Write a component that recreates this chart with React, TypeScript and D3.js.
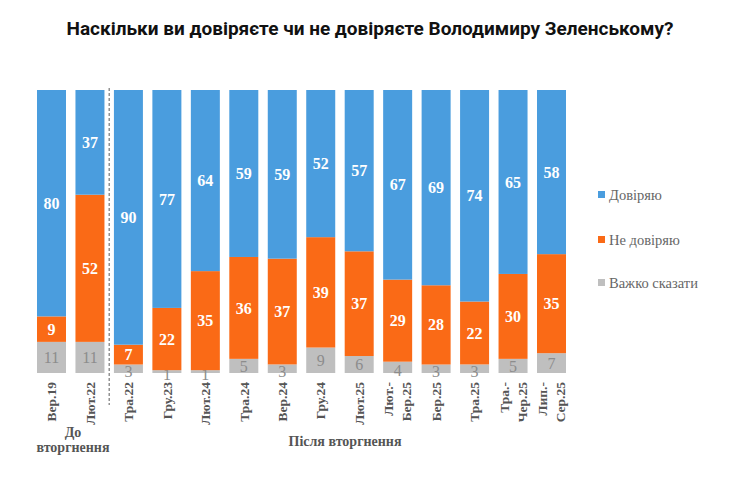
import React from "react";
import * as d3 from "d3";

const categories = ["Вер.19", "Лют.22", "Тра.22", "Гру.23", "Лют.24", "Тра.24", "Вер.24", "Гру.24", "Лют.25", "Лют.-|Бер.25", "Бер.25", "Тра.25", "Тра.-|Чер.25", "Лип.-|Сер.25"];
const trust = [80, 37, 90, 77, 64, 59, 59, 52, 57, 67, 69, 74, 65, 58];
const distrust = [9, 52, 7, 22, 35, 36, 37, 39, 37, 29, 28, 22, 30, 35];
const hard = [11, 11, 3, 1, 1, 5, 3, 9, 6, 4, 3, 3, 5, 7];
const seriesNames = ["Довіряю", "Не довіряю", "Важко сказати"];
const colors = ["#4A9DDE", "#FA6A16", "#BFBFBF"];
const title = "Наскільки ви довіряєте чи не довіряєте Володимиру Зеленському?";

const W = 740, H = 498;

export default function App() {
  const rows = categories.map((c, i) => ({ cat: c, hard: hard[i], distrust: distrust[i], trust: trust[i] }));
  const keys = ["hard", "distrust", "trust"];
  const stack = d3.stack<any>().keys(keys).offset(d3.stackOffsetExpand);
  const series = stack(rows);
  const x = d3.scaleBand().domain(categories).range([37, 566]).paddingInner(0.246).paddingOuter(0);
  const y = d3.scaleLinear().domain([0, 1]).range([373, 90]);
  const colorOf: Record<string, string> = { trust: colors[0], distrust: colors[1], hard: colors[2] };
  const serif = "Liberation Serif";
  const divX = (x(categories[1])! + x.bandwidth() + x(categories[2])!) / 2;

  return (
    <svg width={W} height={H} style={{ position: "absolute", left: 0, top: 0, background: "#fff" }}>
      <text x={370} y={35} textAnchor="middle" fontFamily="Roboto, sans-serif" fontWeight={700} fontSize={19} fill="#111">{title}</text>
      {series.map((s) => (
        <g key={s.key}>
          {s.map((d, i) => {
            const y0 = y(d[0]), y1 = y(d[1]);
            const cx = x(categories[i])! + x.bandwidth() / 2;
            const isHard = s.key === "hard";
            const val = (rows[i] as any)[s.key];
            const mid = (y0 + y1) / 2;
            const cy = isHard && y0 - y1 < 12 ? mid + 3 : mid;
            return (
              <g key={i}>
                <rect x={x(categories[i])} y={y1} width={x.bandwidth()} height={y0 - y1} fill={colorOf[s.key]} />
                <text x={cx} y={cy} dy="0.35em" textAnchor="middle" fontFamily={serif}
                  fontWeight={isHard ? 400 : 700} fontSize={16} fill={isHard ? "#8c8c8c" : "#fff"}>{val}</text>
              </g>
            );
          })}
        </g>
      ))}
      <line x1={divX} x2={divX} y1={88} y2={405} stroke="#777" strokeWidth={1.2} strokeDasharray="3,2" />
      {categories.map((c, i) => {
        const cx = x(c)! + x.bandwidth() / 2;
        const parts = c.split("|");
        return parts.map((p, j) => {
          const off = parts.length === 1 ? 0 : (j === 0 ? -9 : 9);
          return (
            <text key={c + j} transform={`translate(${cx + off},382) rotate(-90)`} dy="0.35em" textAnchor="end"
              fontFamily={serif} fontWeight={700} fontSize={13.5} fill="#555">{p}</text>
          );
        });
      })}
      <text x={73} y={437} textAnchor="middle" fontFamily={serif} fontWeight={700} fontSize={14} fill="#555">До</text>
      <text x={73} y={452} textAnchor="middle" fontFamily={serif} fontWeight={700} fontSize={14} fill="#555">вторгнення</text>
      <text x={345} y={446} textAnchor="middle" fontFamily={serif} fontWeight={700} fontSize={14} fill="#555">Після вторгнення</text>
      {seriesNames.map((n, i) => {
        const ly = [195, 240, 283][i];
        return (
          <g key={n}>
            <rect x={598} y={ly - 4} width={7} height={7} fill={colors[i]} />
            <text x={609} y={ly} dy="0.35em" fontFamily={serif} fontSize={14.5} fill="#666">{n}</text>
          </g>
        );
      })}
    </svg>
  );
}
